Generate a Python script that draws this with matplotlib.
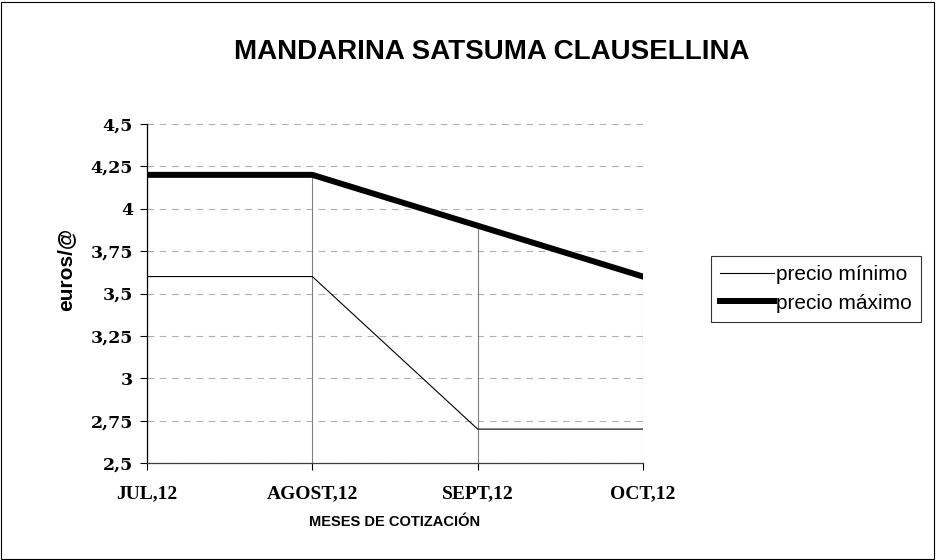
import matplotlib.pyplot as plt
from matplotlib.patches import Rectangle

meses = ["JUL,12", "AGOST,12", "SEPT,12", "OCT,12"]
precio_min = [3.6, 3.6, 2.7, 2.7]
precio_max = [4.2, 4.2, 3.9, 3.6]
y_ticks = [2.5, 2.75, 3, 3.25, 3.5, 3.75, 4, 4.25, 4.5]
y_labels = ["2,5", "2,75", "3", "3,25", "3,5", "3,75", "4", "4,25", "4,5"]

fig = plt.figure(figsize=(9.36, 5.6), dpi=100)
ax = fig.add_axes([147 / 936, 97 / 560, 496 / 936, 339 / 560])

x = list(range(len(meses)))

# lineas verticales hasta el precio maximo
ax.vlines(x, 2.5, precio_max, color="#808080", linewidth=0.8, zorder=1)

ax.plot(x, precio_min, color="black", linewidth=0.8, label="precio mínimo", zorder=3)
ax.plot(x, precio_max, color="black", linewidth=4.3, label="precio máximo", zorder=3)

ax.set_xlim(0, 3)
ax.set_ylim(2.5, 4.5)
ax.set_yticks(y_ticks)
ax.set_yticklabels(y_labels)
ax.set_xticks(x)
ax.set_xticklabels(meses)
for lab in ax.get_xticklabels():
    lab.set_fontfamily("Liberation Serif")
    lab.set_fontweight("bold")
    lab.set_fontsize(14)
for lab in ax.get_yticklabels():
    lab.set_fontfamily("DejaVu Serif")
    lab.set_fontweight("bold")
    lab.set_fontsize(12.5)
ax.tick_params(axis="x", length=5, pad=11, color="black")
ax.tick_params(axis="y", length=5, pad=5, color="black")

ax.yaxis.grid(True, linestyle=(0, (6, 5)), color="#b0b0b0", linewidth=0.8)
ax.set_axisbelow(True)
for s in ["top", "right"]:
    ax.spines[s].set_visible(False)
ax.spines["left"].set_linewidth(0.9)
ax.spines["bottom"].set_linewidth(0.9)
ax.spines["bottom"].set_color("#404040")

ax.set_ylabel("euros/@", fontfamily="Liberation Sans", fontweight="bold", fontsize=15)
ax.yaxis.set_label_coords(-0.145, 0.57)
ax.set_xlabel("MESES DE COTIZACIÓN", fontfamily="Liberation Sans", fontweight="bold", fontsize=10.5)
ax.xaxis.set_label_coords(0.5, -0.153)

fig.text(492 / 936, 1 - 52 / 560, "MANDARINA SATSUMA CLAUSELLINA", ha="center", va="center",
         fontfamily="Liberation Sans", fontweight="bold", fontsize=20)

leg = fig.legend(loc="center", bbox_to_anchor=(816 / 936, 1 - 289 / 560),
                 prop={"family": "Liberation Sans", "size": 15},
                 frameon=True, fancybox=False, edgecolor="black", handlelength=2.6,
                 handletextpad=0.1, borderpad=0.45, labelspacing=0.45, borderaxespad=0)
leg.get_frame().set_linewidth(0.8)

fig.patches.append(Rectangle((1 / 936, 1 / 560), 933 / 936, 557 / 560, transform=fig.transFigure,
                             fill=False, edgecolor="black", linewidth=0.8))

fig.savefig("out.png", dpi=100)
